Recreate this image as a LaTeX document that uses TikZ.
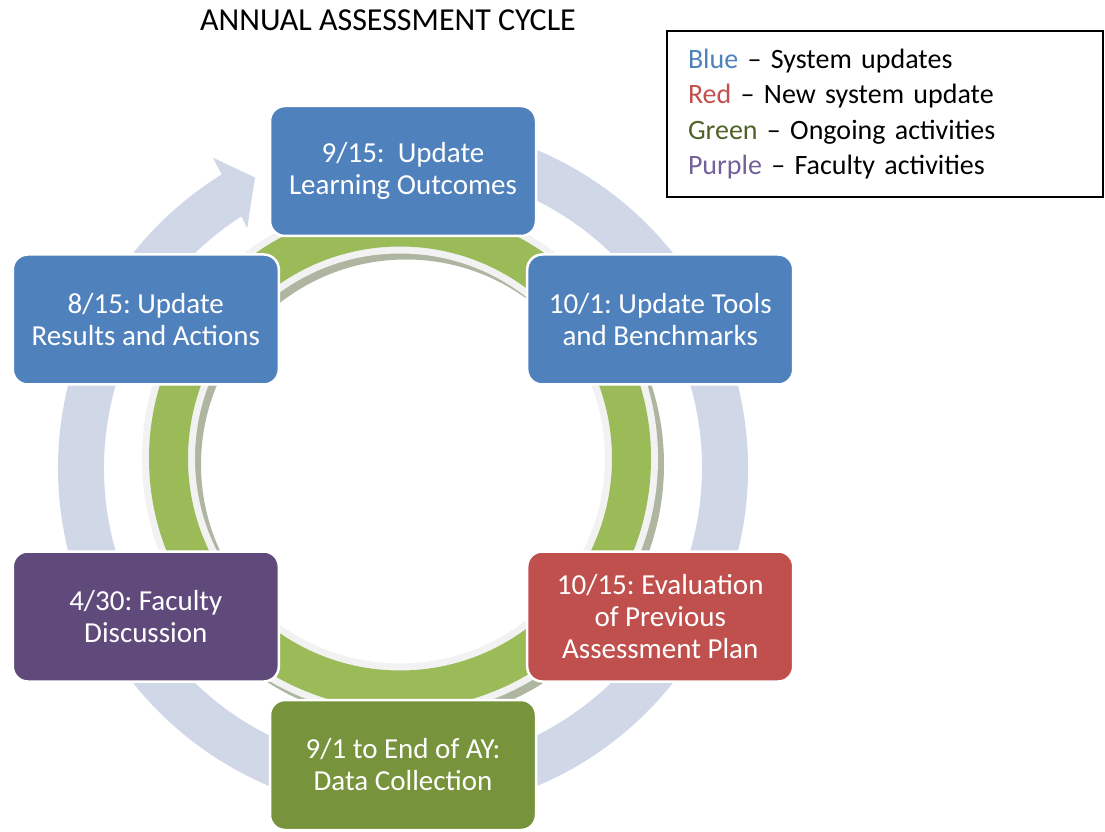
\documentclass[tikz,border=0pt]{standalone}
\usepackage{fontspec}
\setmainfont{Carlito}
\usepackage{xcolor}
\usetikzlibrary{positioning}
\definecolor{sysblue}{HTML}{4F81BD}
\definecolor{newred}{HTML}{C0504D}
\definecolor{ongoing}{HTML}{77933C}
\definecolor{faculty}{HTML}{604A7B}
\definecolor{cyclering}{HTML}{D0D8E8}
\definecolor{greenring}{HTML}{9BBB59}
\definecolor{rim}{HTML}{F2F2F2}
\definecolor{rimshadow}{HTML}{AEB5A0}
\definecolor{keygreen}{HTML}{4F6228}
\definecolor{keypurple}{HTML}{72609A}
\frenchspacing

\begin{document}
\begin{tikzpicture}[x=1pt,y=1pt,
  phase/.style={draw=white,line width=2.5pt,rounded corners=15pt,text=white,
                align=center,minimum width=266pt,minimum height=130pt,
                font=\fontsize{29}{32}\selectfont},
  legendbox/.style={draw=black,line width=1.6pt,minimum width=436pt,
                    minimum height=166pt,text width=394pt,align=left,
                    font=\fontsize{28}{35.3}\selectfont},
  heading/.style={font=\fontsize{32}{36}\selectfont}
]
\useasboundingbox (0,0) rectangle (1105,831);
\coordinate (c) at (403,363);
\coordinate (g) at (400,372.5);

% big return arrow round the cycle
\fill[cyclering,shift={(c)}] (100:345) arc[start angle=100,end angle=-238.3,radius=345]
  -- (-238.5:364) -- (-243:326) -- (-237:286) -- (-237.3:299)
  arc[start angle=-237.3,end angle=100,radius=299] -- cycle;

% inner ring: shadow, rim, green band
\begin{scope}[shift={(g)},even odd rule]
  \fill[rimshadow] (6,-6) circle[radius=258] (6,-6) circle[radius=205];
  \fill[rim] (0,0) circle[radius=258] (0,0) circle[radius=205];
  \fill[greenring] (0,0) circle[radius=251] (0,0) circle[radius=212];
\end{scope}

% the six steps
\node[phase,fill=sysblue] (outcomes) at ([shift={(90:297)}]c) {9/15:~ Update\\Learning Outcomes};
\node[phase,fill=sysblue] (tools) at ([shift={(30:297)}]c) {10/1: Update Tools\\and Benchmarks};
\node[phase,fill=newred] (evaluation) at ([shift={(-30:297)}]c) {10/15: Evaluation\\of Previous\\Assessment Plan};
\node[phase,fill=ongoing] (collection) at ([shift={(-90:297)}]c) {9/1 to End of AY:\\Data Collection};
\node[phase,fill=faculty] (discussion) at ([shift={(-150:297)}]c) {4/30: Faculty\\Discussion};
\node[phase,fill=sysblue] (results) at ([shift={(150:297)}]c) {8/15: Update\\Results and Actions};

\node[heading] (title) at (388,811) {ANNUAL ASSESSMENT CYCLE};

% colour key
\node[legendbox] (legend) at (885,717) {%
  \textcolor{sysblue}{Blue} -- System updates\\
  \textcolor{newred}{Red} -- New system update\\
  \textcolor{keygreen}{Green} -- Ongoing activities\\
  \textcolor{keypurple}{Purple} -- Faculty activities};
\end{tikzpicture}
\end{document}
